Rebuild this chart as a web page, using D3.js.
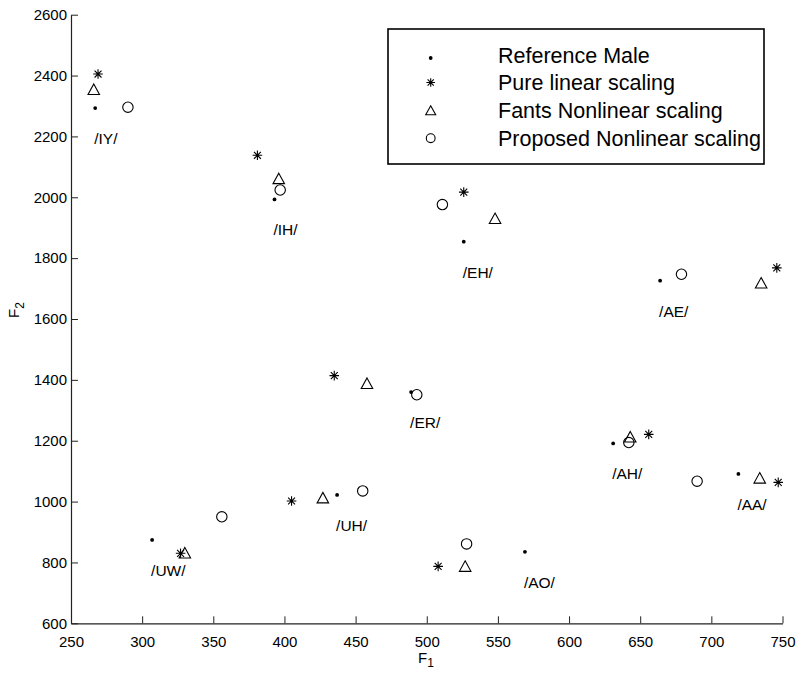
<!DOCTYPE html>
<html>
<head>
<meta charset="utf-8">
<script src="https://cdn.jsdelivr.net/npm/d3@7"></script>
<style>
  html, body { margin: 0; padding: 0; background: #fff; }
  svg { display: block; font-family: "Liberation Sans", Arial, sans-serif; }
</style>
</head>
<body>
<svg id="chart" width="797" height="673"></svg>
<script>
// ---- data ----
const vowels   = ["/IY/", "/IH/", "/EH/", "/AE/", "/ER/", "/UH/", "/UW/", "/AO/", "/AH/", "/AA/"];
const refF1    = [267, 393, 526, 664, 489, 437, 307, 569, 631, 719];
const refF2    = [2293, 1993, 1854, 1726, 1360, 1022, 874, 835, 1191, 1091];
const linF1    = [269, 381, 526, 746, 435, 405, 327, 508, 656, 747];
const linF2    = [2405, 2138, 2017, 1768, 1414, 1002, 830, 787, 1221, 1063];
const fantsF1  = [266, 396, 548, 735, 458, 427, 330, 527, 643, 734];
const fantsF2  = [2355, 2062, 1931, 1719, 1389, 1013, 832, 788, 1213, 1078];
const propF1   = [290, 397, 511, 679, 493, 455, 356, 528, 642, 690];
const propF2   = [2296, 2024, 1976, 1747, 1351, 1035, 950, 861, 1194, 1067];
const labelOffsetF2 = 100;
const xTicks = [250, 300, 350, 400, 450, 500, 550, 600, 650, 700, 750];
const yTicks = [600, 800, 1000, 1200, 1400, 1600, 1800, 2000, 2200, 2400, 2600];
const legendLabels = ["Reference Male", "Pure linear scaling", "Fants Nonlinear scaling", "Proposed Nonlinear scaling"];

// ---- layout ----
const svg = d3.select("#chart");
const x = d3.scaleLinear().domain([250, 750]).range([71, 782.5]);
const y = d3.scaleLinear().domain([600, 2600]).range([623.3, 14.7]);

// axes
const xAxis = d3.axisBottom(x).tickValues(xTicks).tickFormat(d3.format("d"))
  .tickSizeInner(-7).tickSizeOuter(0).tickPadding(10);
const yAxis = d3.axisLeft(y).tickValues(yTicks).tickFormat(d3.format("d"))
  .tickSizeInner(-7).tickSizeOuter(0).tickPadding(4);

const gx = svg.append("g").attr("transform", `translate(0,${y(600)})`).call(xAxis);
const gy = svg.append("g").attr("transform", `translate(${x(250)},0)`).call(yAxis);
[gx, gy].forEach(g => {
  g.select(".domain").attr("stroke", "#222").attr("stroke-width", 1.2);
  g.selectAll(".tick line").attr("stroke", "#222").attr("stroke-width", 1);
  g.selectAll(".tick text").attr("font-size", 15).attr("fill", "#000")
    .attr("font-family", "'Liberation Sans', Arial, sans-serif");
});
gx.selectAll(".tick text").attr("dy", "0.9em");

// axis titles
const xt = svg.append("text").attr("x", 418).attr("y", 663).attr("font-size", 15);
xt.append("tspan").text("F");
xt.append("tspan").attr("font-size", 12).attr("dy", 4).text("1");

const yt = svg.append("text").attr("transform", "translate(19,318) rotate(-90)").attr("font-size", 15);
yt.append("tspan").text("F");
yt.append("tspan").attr("font-size", 12).attr("dy", 5).text("2");

// marker generators
function drawDot(g, cx, cy) {
  g.append("circle").attr("cx", cx).attr("cy", cy).attr("r", 1.9).attr("fill", "#000");
}
function drawStar(g, cx, cy, s) {
  const p = d3.path();
  const d = s * 0.72;
  p.moveTo(cx - s, cy); p.lineTo(cx + s, cy);
  p.moveTo(cx, cy - s); p.lineTo(cx, cy + s);
  p.moveTo(cx - d, cy - d); p.lineTo(cx + d, cy + d);
  p.moveTo(cx - d, cy + d); p.lineTo(cx + d, cy - d);
  g.append("path").attr("d", p.toString()).attr("stroke", "#000").attr("stroke-width", 1.1).attr("fill", "none");
}
function drawTri(g, cx, cy, w, h) {
  const p = d3.path();
  p.moveTo(cx, cy - h / 2); p.lineTo(cx + w / 2, cy + h / 2); p.lineTo(cx - w / 2, cy + h / 2); p.closePath();
  g.append("path").attr("d", p.toString()).attr("stroke", "#000").attr("stroke-width", 1.1).attr("fill", "none");
}
function drawCirc(g, cx, cy, r) {
  g.append("circle").attr("cx", cx).attr("cy", cy).attr("r", r).attr("stroke", "#000").attr("stroke-width", 1.1).attr("fill", "none");
}

const marks = svg.append("g");
vowels.forEach((v, i) => {
  drawDot(marks, x(refF1[i]), y(refF2[i]));
  drawStar(marks, x(linF1[i]), y(linF2[i]), 4.8);
  drawTri(marks, x(fantsF1[i]), y(fantsF2[i]), 11.5, 10.5);
  drawCirc(marks, x(propF1[i]), y(propF2[i]), 5.2);
});

// vowel labels
svg.append("g").selectAll("text").data(vowels).join("text")
  .attr("x", (d, i) => x(refF1[i]) - 1)
  .attr("y", (d, i) => y(refF2[i] - labelOffsetF2))
  .attr("dy", "0.36em")
  .attr("font-size", 15.5)
  .text(d => d);

// legend
const lg = svg.append("g");
lg.append("rect").attr("x", 388).attr("y", 29).attr("width", 376).attr("height", 135)
  .attr("fill", "#fff").attr("stroke", "#000").attr("stroke-width", 1.6);
const rowY = [55, 82.5, 110.3, 138.2];
const mx = 430.7;
legendLabels.forEach((t, i) => {
  lg.append("text").attr("x", 498).attr("y", rowY[i]).attr("dy", "0.36em")
    .attr("font-size", 21.5).text(t);
});
drawDot(lg, mx, rowY[0] + 3);
drawStar(lg, mx, rowY[1], 4.3);
drawTri(lg, mx, rowY[2], 10, 9);
drawCirc(lg, mx, rowY[3], 4.4);
</script>
</body>
</html>
